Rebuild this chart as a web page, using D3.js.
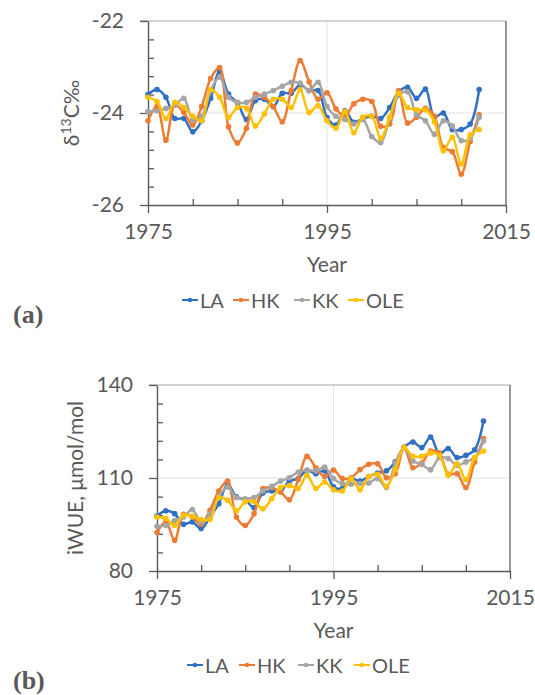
<!DOCTYPE html>
<html>
<head>
<meta charset="utf-8">
<script src="https://cdn.jsdelivr.net/npm/d3@7"></script>
<style>
  html, body { margin: 0; padding: 0; background: #fff; }
  svg { display: block; }
  text { font-family: Lato, "Open Sans", sans-serif; fill: #595959; }
</style>
</head>
<body>
<svg id="chart" width="535" height="695"></svg>
<script>
// Sampling years (annual tree-ring series)
const years = [1975, 1976, 1977, 1978, 1979, 1980, 1981, 1982, 1983, 1984,
  1985, 1986, 1987, 1988, 1989, 1990, 1991, 1992, 1993, 1994,
  1995, 1996, 1997, 1998, 1999, 2000, 2001, 2002, 2003, 2004,
  2005, 2006, 2007, 2008, 2009, 2010, 2011, 2012];

const siteNames = ["LA", "HK", "KK", "OLE"];
const siteColors = ["#2f6fc4", "#ee7b33", "#a5a5a5", "#ffc000"];

// (a) delta 13C, per mille
const LA_d13C = [-23.60, -23.49, -23.66, -24.12, -24.12, -24.41, -24.17, -23.68, -23.10, -23.59,
  -23.78, -24.14, -23.73, -23.70, -23.86, -23.57, -23.57, -23.39, -23.51, -23.51,
  -24.10, -24.26, -23.95, -24.20, -24.12, -24.07, -24.12, -23.88, -23.54, -23.44,
  -23.68, -23.48, -24.09, -24.00, -24.36, -24.36, -24.24, -23.49];
const HK_d13C = [-24.17, -23.86, -24.59, -23.83, -23.99, -24.26, -23.86, -23.25, -23.01, -24.30,
  -24.65, -24.33, -23.59, -23.66, -23.86, -24.19, -23.51, -22.86, -23.32, -23.70,
  -23.56, -23.91, -24.07, -23.80, -23.70, -23.75, -24.29, -24.24, -23.51, -24.22,
  -24.09, -23.90, -24.07, -24.75, -24.84, -25.33, -24.62, -24.04];
const KK_d13C = [-23.97, -23.95, -23.90, -23.83, -23.68, -24.14, -24.07, -23.51, -23.22, -23.66,
  -23.77, -23.77, -23.66, -23.59, -23.51, -23.42, -23.33, -23.35, -23.51, -23.33,
  -23.86, -24.07, -24.14, -24.24, -24.14, -24.51, -24.64, -24.12, -23.62, -23.54,
  -24.04, -24.17, -24.46, -24.17, -24.28, -24.60, -24.55, -24.09];
const OLE_d13C = [-23.66, -23.75, -24.12, -23.77, -23.88, -24.07, -24.17, -23.49, -23.66, -24.09,
  -23.88, -23.90, -24.28, -24.02, -23.70, -23.70, -23.88, -23.49, -23.99, -23.84,
  -24.17, -24.33, -23.97, -24.43, -24.09, -24.07, -24.55, -24.09, -23.57, -23.88,
  -23.93, -23.93, -24.19, -24.82, -24.53, -25.11, -24.48, -24.36];

// (b) intrinsic water-use efficiency, umol/mol
const LA_iWUE = [97.7, 99.4, 98.5, 95.1, 95.8, 93.7, 97.4, 101.7, 108.0, 103.9,
  103.0, 100.4, 105.2, 105.8, 105.8, 109.0, 109.8, 112.5, 111.4, 112.3,
  107.2, 106.6, 109.8, 109.0, 110.5, 111.6, 112.3, 115.2, 119.8, 121.6,
  119.8, 123.2, 117.8, 119.5, 116.6, 117.3, 119.1, 128.4];
const HK_iWUE = [92.4, 95.8, 89.9, 98.3, 97.4, 95.1, 99.6, 105.8, 109.0, 97.4,
  94.7, 98.5, 106.6, 106.9, 105.5, 103.0, 109.5, 117.0, 113.3, 110.5,
  112.6, 109.8, 110.1, 112.7, 114.4, 114.6, 110.1, 111.4, 120.0, 113.3,
  114.8, 118.7, 118.1, 111.2, 111.4, 106.9, 115.2, 122.7];
const KK_iWUE = [94.4, 94.7, 96.3, 97.4, 99.8, 95.8, 98.3, 103.9, 107.1, 103.7,
  103.3, 103.7, 105.8, 107.3, 109.0, 110.1, 111.9, 112.5, 112.3, 113.5,
  109.8, 108.2, 108.0, 108.2, 108.4, 109.8, 106.9, 114.8, 119.8, 115.5,
  114.4, 112.7, 116.6, 116.3, 114.1, 115.2, 116.6, 121.9];
const OLE_iWUE = [97.4, 96.9, 94.7, 98.0, 97.7, 96.6, 96.6, 103.7, 102.8, 99.4,
  102.3, 102.3, 100.1, 103.3, 106.9, 107.6, 106.6, 110.9, 106.6, 108.7,
  106.2, 105.8, 109.8, 106.2, 110.5, 111.2, 107.3, 112.7, 119.8, 117.0,
  117.0, 118.1, 117.3, 110.9, 114.6, 109.5, 116.6, 118.7];

// Axis ticks
const xMajorTicks = [1975, 1995, 2015];
const xMinorTicks = [1980, 1985, 1990, 2000, 2005, 2010];
const yMajorTicksA = [-26, -24, -22];
const yMinorTicksA = [-25.6, -25.2, -24.8, -24.4, -23.6, -23.2, -22.8, -22.4];
const yMajorTicksB = [80, 110, 140];
const yMinorTicksB = [86, 92, 98, 104, 116, 122, 128, 134];

const svg = d3.select("#chart");

function drawPanel(opts) {
  const { left, right, top, bottom, yDomain, yMajor, yMinor, gridY, gridX,
          series, legendY, legendX, titleX, label, labelY } = opts;
  const x = d3.scaleLinear().domain([1975, 2015]).range([left, right]);
  const y = d3.scaleLinear().domain(yDomain).range([bottom, top]);
  const g = svg.append("g");

  // gridlines
  g.append("line").attr("x1", left).attr("x2", right)
    .attr("y1", y(gridY)).attr("y2", y(gridY))
    .attr("stroke", "#e3e3e3").attr("stroke-width", 1);
  g.append("line").attr("x1", x(gridX)).attr("x2", x(gridX))
    .attr("y1", top).attr("y2", bottom)
    .attr("stroke", "#e3e3e3").attr("stroke-width", 1);

  // plot frame: light top edge, darker right edge
  g.append("line").attr("x1", left - 8).attr("x2", right)
    .attr("y1", top).attr("y2", top)
    .attr("stroke", "#c4c4c4").attr("stroke-width", 1.3);
  g.append("line").attr("x1", right).attr("x2", right)
    .attr("y1", top).attr("y2", bottom)
    .attr("stroke", "#7f7f7f").attr("stroke-width", 1.6);

  // minor ticks (inside)
  g.append("g").attr("transform", `translate(0,${bottom})`)
    .call(d3.axisTop(x).tickValues(xMinorTicks).tickSize(6).tickSizeOuter(0).tickFormat(""))
    .call(a => a.select(".domain").remove())
    .call(a => a.selectAll("line").attr("stroke", "#595959").attr("stroke-width", 1.3));
  g.append("g").attr("transform", `translate(${left},0)`)
    .call(d3.axisRight(y).tickValues(yMinor).tickSize(6).tickSizeOuter(0).tickFormat(""))
    .call(a => a.select(".domain").remove())
    .call(a => a.selectAll("line").attr("stroke", "#595959").attr("stroke-width", 1.3));

  // major axes
  const xAxis = g.append("g").attr("transform", `translate(0,${bottom})`)
    .call(d3.axisBottom(x).tickValues(xMajorTicks).tickSize(8).tickSizeOuter(0).tickPadding(11).tickFormat(d3.format("d")));
  const yAxis = g.append("g").attr("transform", `translate(${left},0)`)
    .call(d3.axisLeft(y).tickValues(yMajor).tickSize(8).tickSizeOuter(0).tickPadding(16).tickFormat(d => d < 0 ? "-" + Math.abs(d) : d));
  [xAxis, yAxis].forEach(a => {
    a.select(".domain").attr("stroke", "#595959").attr("stroke-width", 1.4);
    a.selectAll(".tick line").attr("stroke", "#595959").attr("stroke-width", 1.3);
    a.selectAll("text").attr("font-size", 21).attr("fill", "#595959")
      .style("font-family", "Lato, 'Open Sans', sans-serif");
  });

  // x axis title
  g.append("text").attr("x", x(1995)).attr("y", bottom + 58)
    .attr("text-anchor", "middle").attr("dominant-baseline", "central")
    .attr("font-size", 21).text("Year");

  // y axis title
  titleX(g, (top + bottom) / 2);

  // series: smoothed lines with markers
  const line = d3.line()
    .x((d, i) => x(years[i]))
    .y(d => y(d))
    .curve(d3.curveCatmullRom.alpha(0.5));
  series.forEach((vals, k) => {
    const s = g.append("g");
    s.append("path").attr("d", line(vals))
      .attr("fill", "none").attr("stroke", siteColors[k])
      .attr("stroke-width", 2.5).attr("stroke-linejoin", "round");
    s.selectAll("circle").data(vals).join("circle")
      .attr("cx", (d, i) => x(years[i])).attr("cy", d => y(d))
      .attr("r", 2.8).attr("fill", siteColors[k]);
  });

  // legend
  const lg = g.append("g");
  siteNames.forEach((name, k) => {
    const lx = legendX[k];
    lg.append("line").attr("x1", lx).attr("x2", lx + 16)
      .attr("y1", legendY).attr("y2", legendY)
      .attr("stroke", siteColors[k]).attr("stroke-width", 2);
    lg.append("circle").attr("cx", lx + 8).attr("cy", legendY).attr("r", 2.3)
      .attr("fill", siteColors[k]);
    lg.append("text").attr("x", lx + 18).attr("y", legendY)
      .attr("dominant-baseline", "central").attr("font-size", 20)
      .text(name);
  });

  // panel label
  svg.append("text").attr("x", 13).attr("y", labelY)
    .attr("dominant-baseline", "central")
    .style("font-family", "'Liberation Serif', 'DejaVu Serif', serif")
    .attr("font-weight", "bold").attr("font-size", 26).attr("fill", "#000")
    .text(label);
}

drawPanel({
  left: 148, right: 506, top: 21, bottom: 205,
  yDomain: [-26, -22], yMajor: yMajorTicksA, yMinor: yMinorTicksA,
  gridY: -24, gridX: 1995,
  series: [LA_d13C, HK_d13C, KK_d13C, OLE_d13C],
  legendY: 300, legendX: [182, 233, 294, 348],
  label: "(a)", labelY: 314,
  titleX: (g, cy) => {
    const t = g.append("text").attr("transform", `translate(79,${cy}) rotate(-90)`)
      .attr("text-anchor", "middle").attr("font-size", 21);
    t.append("tspan").text("δ");
    t.append("tspan").attr("font-size", 14).attr("dy", -8).text("13");
    t.append("tspan").attr("dy", 8).text("C‰");
  }
});

drawPanel({
  left: 157, right: 510, top: 385, bottom: 571,
  yDomain: [80, 140], yMajor: yMajorTicksB, yMinor: yMinorTicksB,
  gridY: 110, gridX: 1995,
  series: [LA_iWUE, HK_iWUE, KK_iWUE, OLE_iWUE],
  legendY: 665, legendX: [187, 239, 298, 354],
  label: "(b)", labelY: 680,
  titleX: (g, cy) => {
    g.append("text").attr("transform", `translate(74,${cy}) rotate(-90)`)
      .attr("text-anchor", "middle").attr("dominant-baseline", "central")
      .attr("font-size", 21).text("iWUE, μmol/mol");
  }
});
</script>
</body>
</html>
